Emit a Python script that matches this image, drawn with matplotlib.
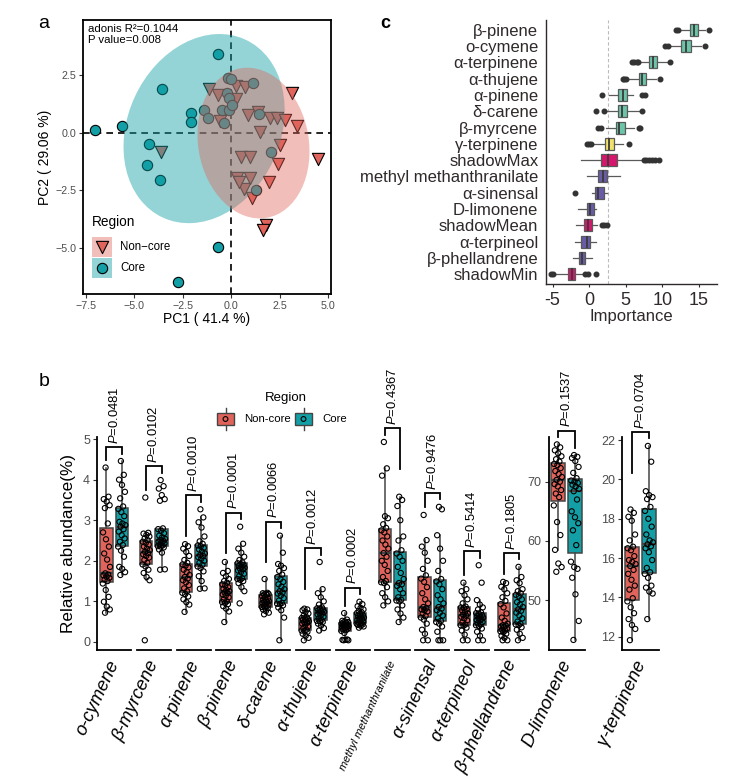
import numpy as np
import matplotlib
matplotlib.use('Agg')
import matplotlib.pyplot as plt
from matplotlib.patches import Ellipse, Rectangle

plt.rcParams['font.family'] = ['Liberation Sans', 'DejaVu Sans']
plt.rcParams['mathtext.fontset'] = 'custom'
plt.rcParams['mathtext.rm'] = 'Liberation Sans'
plt.rcParams['mathtext.it'] = 'Liberation Sans:italic'

# ------------------------------------------------------------------ data
# panel a : PCA scores
core_pc1 = [-0.69, -3.56, -2.10, -2.10, -7.03, -5.62, -4.25, -4.33, -3.66, -0.69, -2.75,
            -0.19, 0.00, 1.12, -0.22, -0.09, -1.43, -0.50, -0.12, 0.05, -1.22, -0.36, 1.43, 2.03, 1.29]
core_pc2 = [3.39, 1.87, 0.86, 0.45, 0.10, 0.30, -0.48, -1.40, -2.06, -4.94, -6.47,
            2.36, 2.30, 2.13, 1.69, 1.50, 0.99, 0.97, 0.99, 1.18, 0.62, 0.42, 0.82, -0.84, -2.46]
noncore_pc1 = [3.15, 3.37, 4.49, 2.51, 2.42, 1.96, 1.08, 1.77, 1.65, -1.15, -0.70, 0.26, 0.70, 0.26,
               0.88, 1.39, 1.98, 2.37, 2.77, -0.60, 1.48, -3.61, 0.52, 0.95, 0.29, 0.95, 0.65, 0.40]
noncore_pc2 = [1.69, 0.27, -1.14, -0.55, -1.34, -2.12, -2.81, -3.98, -4.19, 1.86, 1.61, 2.03, 1.95, 1.46,
               0.76, 0.88, 0.65, 0.62, 0.56, 0.49, 0.03, -0.84, -1.04, -1.05, -1.96, -1.96, -2.45, -2.13]
adonis_r2 = "0.1044"
adonis_p = "0.008"
pc1_pct = "41.4"
pc2_pct = "29.06"

# panel b : relative abundance (%) per sample
ocymene_nc = [0.72, 0.80, 0.87, 0.99, 1.11, 1.28, 1.44, 1.50, 1.54, 1.58, 1.61, 1.64, 1.66, 1.69,
              1.85, 2.03, 2.18, 2.35, 2.53, 2.70, 2.92, 3.30, 3.37, 3.46, 3.52, 3.58, 4.30]
ocymene_core = [1.65, 1.72, 1.80, 1.85, 2.10, 2.25, 2.35, 2.39, 2.47, 2.55, 2.63, 2.72, 2.78, 2.84,
                2.88, 2.92, 2.96, 3.10, 3.20, 3.28, 3.34, 3.54, 3.70, 3.87, 4.00, 4.12, 4.46]
myrcene_nc = [0.04, 1.52, 1.60, 1.70, 1.78, 1.86, 1.91, 1.95, 2.02, 2.08, 2.12, 2.16, 2.19, 2.22,
              2.26, 2.30, 2.35, 2.40, 2.44, 2.47, 2.51, 2.55, 2.60, 2.64, 2.67, 2.69, 3.56]
myrcene_core = [1.78, 1.79, 2.20, 2.28, 2.33, 2.35, 2.36, 2.38, 2.40, 2.43, 2.45, 2.47, 2.49, 2.51,
                2.54, 2.58, 2.62, 2.68, 2.74, 2.78, 2.80, 3.48, 3.52, 3.62, 3.78, 3.84, 3.99]
apinene_nc = [0.74, 0.92, 0.98, 1.05, 1.12, 1.18, 1.21, 1.25, 1.32, 1.40, 1.47, 1.52, 1.56, 1.60,
              1.65, 1.72, 1.78, 1.84, 1.88, 1.91, 1.95, 2.02, 2.12, 2.22, 2.30, 2.36, 2.41]
apinene_core = [1.31, 1.32, 1.50, 1.62, 1.74, 1.82, 1.86, 1.90, 1.95, 2.00, 2.05, 2.09, 2.12, 2.14,
                2.18, 2.23, 2.28, 2.32, 2.36, 2.38, 2.42, 2.48, 2.60, 2.82, 2.95, 3.07, 3.27]
bpinene_nc = [0.49, 0.75, 0.82, 0.88, 0.93, 0.96, 0.98, 1.00, 1.05, 1.10, 1.14, 1.17, 1.20, 1.22,
              1.25, 1.28, 1.31, 1.35, 1.39, 1.42, 1.46, 1.50, 1.55, 1.62, 1.70, 1.75, 1.97]
bpinene_core = [0.95, 1.25, 1.35, 1.45, 1.50, 1.53, 1.55, 1.57, 1.62, 1.68, 1.72, 1.76, 1.79, 1.81,
                1.83, 1.85, 1.87, 1.90, 1.92, 1.94, 1.96, 2.02, 2.10, 2.20, 2.30, 2.42, 2.84]
dcarene_nc = [0.68, 0.72, 0.76, 0.80, 0.83, 0.85, 0.86, 0.87, 0.89, 0.92, 0.94, 0.96, 0.98, 0.99,
              1.00, 1.02, 1.04, 1.07, 1.10, 1.13, 1.16, 1.17, 1.18, 1.19, 1.20, 1.21, 1.55]
dcarene_core = [0.04, 0.60, 0.78, 0.85, 0.90, 0.93, 0.94, 0.96, 1.02, 1.08, 1.14, 1.19, 1.22, 1.25,
                1.30, 1.36, 1.42, 1.48, 1.55, 1.60, 1.66, 1.75, 1.82, 1.88, 1.92, 2.20, 2.62]
athujene_nc = [0.04, 0.10, 0.15, 0.20, 0.25, 0.27, 0.28, 0.30, 0.34, 0.38, 0.42, 0.45, 0.47, 0.49,
               0.51, 0.53, 0.55, 0.57, 0.58, 0.59, 0.61, 0.65, 0.70, 0.74, 0.78, 0.80, 0.82]
athujene_core = [0.28, 0.34, 0.40, 0.45, 0.49, 0.51, 0.52, 0.54, 0.58, 0.62, 0.65, 0.68, 0.70, 0.72,
                 0.74, 0.76, 0.78, 0.80, 0.82, 0.83, 0.85, 0.92, 1.00, 1.10, 1.20, 1.30, 1.97]
aterpinene_nc = [0.04, 0.04, 0.05, 0.05, 0.06, 0.22, 0.27, 0.29, 0.31, 0.33, 0.35, 0.36, 0.37, 0.38,
                 0.39, 0.40, 0.41, 0.42, 0.44, 0.45, 0.47, 0.48, 0.49, 0.50, 0.52, 0.55, 0.71]
aterpinene_core = [0.35, 0.38, 0.40, 0.42, 0.43, 0.44, 0.45, 0.46, 0.48, 0.50, 0.52, 0.54, 0.56, 0.58,
                   0.60, 0.62, 0.64, 0.66, 0.69, 0.71, 0.73, 0.76, 0.80, 0.84, 0.88, 0.93, 0.99]
methyl_nc = [0.90, 1.00, 1.10, 1.20, 1.35, 1.45, 1.47, 1.50, 1.60, 1.75, 1.90, 2.00, 2.10, 2.19,
             2.30, 2.40, 2.50, 2.60, 2.70, 2.75, 2.81, 2.90, 3.05, 3.10, 4.10, 4.28, 4.93]
methyl_core = [0.49, 0.60, 0.70, 0.80, 0.90, 1.00, 1.02, 1.04, 1.10, 1.20, 1.30, 1.38, 1.42, 1.45,
               1.55, 1.70, 1.85, 2.00, 2.10, 2.18, 2.26, 2.50, 2.60, 3.00, 3.35, 3.50, 3.58]
sinensal_nc = [0.04, 0.04, 0.20, 0.30, 0.45, 0.55, 0.60, 0.64, 0.70, 0.75, 0.78, 0.80, 0.83, 0.86,
               0.95, 1.05, 1.20, 1.35, 1.48, 1.56, 1.64, 1.80, 2.00, 2.20, 2.35, 2.51, 3.13]
sinensal_core = [0.04, 0.04, 0.04, 0.25, 0.38, 0.45, 0.49, 0.52, 0.58, 0.65, 0.72, 0.78, 0.82, 0.86,
                 0.95, 1.05, 1.15, 1.30, 1.42, 1.49, 1.55, 1.75, 2.00, 2.30, 2.63, 3.27, 3.33]
terpineol_nc = [0.04, 0.04, 0.18, 0.28, 0.35, 0.40, 0.41, 0.43, 0.48, 0.53, 0.58, 0.62, 0.65, 0.67,
                0.70, 0.74, 0.78, 0.81, 0.84, 0.85, 0.87, 0.95, 1.05, 1.15, 1.25, 1.30, 1.46]
terpineol_core = [0.04, 0.04, 0.15, 0.25, 0.33, 0.39, 0.41, 0.43, 0.46, 0.49, 0.52, 0.54, 0.56, 0.58,
                  0.60, 0.62, 0.64, 0.66, 0.69, 0.71, 0.73, 0.80, 0.85, 0.92, 1.03, 1.46, 1.89]
phell_nc = [0.04, 0.04, 0.10, 0.15, 0.20, 0.24, 0.26, 0.28, 0.30, 0.33, 0.36, 0.38, 0.40, 0.41,
            0.45, 0.52, 0.60, 0.70, 0.85, 0.93, 1.01, 1.10, 1.20, 1.30, 1.36, 1.45, 1.48]
phell_core = [0.04, 0.10, 0.20, 0.30, 0.36, 0.41, 0.43, 0.45, 0.50, 0.58, 0.65, 0.72, 0.77, 0.80,
              0.86, 0.92, 0.98, 1.05, 1.12, 1.16, 1.20, 1.25, 1.30, 1.45, 1.52, 1.60, 1.85]
limonene_nc = [54.8, 55.6, 56.2, 58.5, 61.0, 63.2, 66.0, 67.4, 68.0, 68.6, 69.2, 69.6, 70.0, 70.3,
               70.8, 71.3, 71.8, 72.3, 72.8, 73.0, 73.4, 73.8, 74.3, 74.8, 75.3, 75.8, 76.3]
limonene_core = [43.3, 46.5, 51.0, 53.8, 55.3, 55.6, 56.5, 59.3, 61.8, 63.0, 64.0, 65.0, 67.0, 68.4,
                 68.8, 69.2, 69.5, 69.8, 70.0, 70.2, 70.6, 71.5, 72.5, 73.5, 74.0, 74.2, 74.5]
gterpinene_nc = [11.83, 12.4, 12.6, 12.9, 13.2, 13.5, 13.8, 13.96, 14.4, 14.6, 14.9, 15.2, 15.4, 15.6,
                 15.7, 15.8, 15.9, 16.1, 16.4, 16.5, 16.58, 16.9, 17.2, 17.9, 18.1, 18.3, 18.47]
gterpinene_core = [12.9, 14.2, 14.3, 14.5, 14.6, 15.0, 15.2, 15.28, 15.5, 15.9, 16.3, 16.5, 16.6, 16.7,
                   16.8, 16.9, 17.2, 17.6, 18.0, 18.4, 18.6, 19.0, 19.1, 19.2, 19.4, 20.9, 21.7]

b_compounds = ['o-cymene', 'β-myrcene', 'α-pinene', 'β-pinene', 'δ-carene', 'α-thujene',
               'α-terpinene', 'methyl methanthranilate', 'α-sinensal', 'α-terpineol',
               'β-phellandrene', 'D-limonene', 'γ-terpinene']
b_pvalues = ['0.0481', '0.0102', '0.0010', '0.0001', '0.0066', '0.0012', '0.0002',
             '0.4367', '0.9476', '0.5414', '0.1805', '0.1537', '0.0704']
b_noncore = [ocymene_nc, myrcene_nc, apinene_nc, bpinene_nc, dcarene_nc, athujene_nc, aterpinene_nc,
             methyl_nc, sinensal_nc, terpineol_nc, phell_nc, limonene_nc, gterpinene_nc]
b_core = [ocymene_core, myrcene_core, apinene_core, bpinene_core, dcarene_core, athujene_core,
          aterpinene_core, methyl_core, sinensal_core, terpineol_core, phell_core, limonene_core,
          gterpinene_core]

# panel c : Boruta importance
c_labels = ['β-pinene', 'o-cymene', 'α-terpinene', 'α-thujene', 'α-pinene', 'δ-carene', 'β-myrcene',
            'γ-terpinene', 'shadowMax', 'methyl methanthranilate', 'α-sinensal', 'D-limonene',
            'shadowMean', 'α-terpineol', 'β-phellandrene', 'shadowMin']
c_decision = ['Confirmed'] * 7 + ['Tentative', 'Shadow', 'Rejected', 'Rejected', 'Rejected',
                                  'Shadow', 'Rejected', 'Rejected', 'Shadow']
c_whislo = [12.5, 11.2, 6.9, 5.4, 2.7, 2.5, 2.3, 0.6, -1.1, -0.3, 0.45, -1.5, -1.75, -1.95, -2.17, -4.7]
c_q1 = [13.77, 12.63, 8.21, 6.85, 3.97, 3.97, 3.66, 2.2, 1.6, 1.15, 0.79, -0.26, -0.67, -1.13, -1.4, -2.86]
c_med = [14.3, 13.2, 8.76, 7.3, 4.66, 4.52, 4.1, 2.74, 2.6, 1.92, 1.15, 0.1, -0.22, -0.35, -1.04, -2.4]
c_q3 = [14.9, 14.0, 9.31, 7.85, 5.25, 5.2, 4.89, 3.43, 3.88, 2.47, 2.06, 0.65, 0.33, 0.1, -0.58, -1.95]
c_whishi = [15.9, 15.3, 10.6, 9.2, 6.0, 7.0, 6.2, 4.7, 7.2, 4.2, 2.38, 1.0, 1.1, 1.0, 0.33, -0.8]
c_outliers = [[11.9, 12.1, 16.4], [10.4, 10.8, 15.8], [5.9, 6.2, 6.5, 6.7, 11.0], [4.6, 4.8, 5.0, 9.7],
              [1.8, 7.3, 7.7], [0.9, 2.1, 7.2], [1.2, 1.6, 6.8, 7.0], [-0.3, 0.0, 0.3, 5.5],
              [7.5, 7.8, 8.2, 8.6, 9.0, 9.5], [], [-1.9], [], [1.8, 2.1, 2.5], [], [],
              [-5.2, -5.0, -0.5, -0.1, 1.0]]

# ------------------------------------------------------------------ style
NC_COL = '#E0645B'
CORE_COL = '#12A0A6'
GRAY_TXT = '#4D4D4D'
C_COLORS = {'Confirmed': '#6CC4A9', 'Tentative': '#F2E26C', 'Shadow': '#D6166C', 'Rejected': '#6A5BA6'}
C_TXT = '#2F2929'

W, H = 733, 780
fig = plt.figure(figsize=(W / 100, H / 100), dpi=100)


def add_ax(l, t, r, b):
    return fig.add_axes([l / W, 1 - b / H, (r - l) / W, (b - t) / H])


# ------------------------------------------------------------------ panel a
axa = add_ax(83, 20, 331, 294)
axa.set_xlim(-7.65, 5.15)
axa.set_ylim(-6.97, 4.86)
axa.axvline(0, color='black', lw=1.2, dashes=(4, 3), zorder=1.5)
axa.axhline(0, color='black', lw=1.2, dashes=(4, 3), zorder=1.5)
axa.scatter(noncore_pc1, noncore_pc2, marker='v', s=78, facecolor=NC_COL, edgecolor='black',
            linewidths=0.8, zorder=2)
axa.scatter(core_pc1, core_pc2, marker='o', s=55, facecolor=CORE_COL, edgecolor='black',
            linewidths=0.8, zorder=2)


def conf_ellipse(x, y, scale, **kw):
    x = np.asarray(x); y = np.asarray(y)
    cov = np.cov(x, y)
    vals, vecs = np.linalg.eigh(cov)
    order = vals.argsort()[::-1]
    vals, vecs = vals[order], vecs[:, order]
    ang = np.degrees(np.arctan2(vecs[1, 0], vecs[0, 0]))
    return Ellipse((x.mean(), y.mean()), 2 * scale * np.sqrt(vals[0]), 2 * scale * np.sqrt(vals[1]),
                   angle=ang, **kw)


ELL_SCALE = 1.82
axa.add_patch(conf_ellipse(core_pc1, core_pc2, ELL_SCALE, facecolor=CORE_COL, alpha=0.45,
                           edgecolor='none', zorder=3))
axa.add_patch(conf_ellipse(noncore_pc1, noncore_pc2, ELL_SCALE, facecolor=NC_COL, alpha=0.42,
                           edgecolor='none', zorder=3))
axa.set_xticks([-7.5, -5, -2.5, 0, 2.5, 5])
axa.set_xticklabels(['\u22127.5', '\u22125.0', '\u22122.5', '0.0', '2.5', '5.0'])
axa.set_yticks([-5, -2.5, 0, 2.5])
axa.set_yticklabels(['\u22125.0', '\u22122.5', '0.0', '2.5'])
axa.tick_params(labelsize=7.7, labelcolor=GRAY_TXT, length=3, width=0.8, color='#333333', pad=2)
for s in axa.spines.values():
    s.set_linewidth(1.3)
axa.set_xlabel(f'PC1 ( {pc1_pct} %)', fontsize=10, labelpad=1)
axa.set_ylabel(f'PC2 ( {pc2_pct} %)', fontsize=10, labelpad=2)
axa.text(0.02, 0.985, f'adonis R\u00b2={adonis_r2}\nP value={adonis_p}', transform=axa.transAxes,
         ha='left', va='top', fontsize=8.2, linespacing=1.15, zorder=5)

# ------------------------------------------------------------------ panel c
axc = add_ax(546, 20, 717, 284)
cstats = []
for i in range(len(c_labels)):
    cstats.append(dict(q1=c_q1[i], med=c_med[i], q3=c_q3[i], whislo=c_whislo[i],
                       whishi=c_whishi[i], fliers=c_outliers[i]))
cpos = np.arange(1, len(c_labels) + 1)
ckw = dict(positions=cpos, widths=0.74, patch_artist=True, showcaps=False,
           boxprops=dict(edgecolor='#5a5a5a', linewidth=0.9),
           medianprops=dict(color='#3a3a3a', linewidth=1.3),
           whiskerprops=dict(color='#5a5a5a', linewidth=0.9),
           flierprops=dict(marker='o', markersize=3.3, markerfacecolor='#333333',
                           markeredgecolor='#333333', linestyle='none'))
try:
    cb = axc.bxp(cstats, orientation='horizontal', **ckw)
except TypeError:
    cb = axc.bxp(cstats, vert=False, **ckw)
for patch, dec in zip(cb['boxes'], c_decision):
    patch.set_facecolor(C_COLORS[dec])
axc.axvline(c_med[c_labels.index('shadowMax')], color='#BBBBBB', lw=0.8, dashes=(3, 2), zorder=0.5)
axc.set_ylim(16.6, 0.4)
axc.set_xlim(-5.9, 17.5)
axc.set_yticks(cpos)
axc.set_yticklabels(c_labels)
axc.set_xticks([-5, 0, 5, 10, 15])
axc.set_xticklabels(['-5', '0', '5', '10', '15'])
axc.tick_params(axis='y', length=0, labelsize=12, labelcolor=C_TXT, pad=5.5)
axc.tick_params(axis='x', length=2, labelsize=13, labelcolor=C_TXT, color=C_TXT, pad=4)
axc.spines['top'].set_visible(False)
axc.spines['right'].set_visible(False)
for s in ('left', 'bottom'):
    axc.spines[s].set_color(C_TXT)
    axc.spines[s].set_linewidth(1.0)
axc.set_xlabel('Importance', fontsize=12, color=C_TXT, labelpad=0)


# ------------------------------------------------------------------ panel b
def tukey(vals):
    v = np.sort(np.asarray(vals, float))
    q1, med, q3 = np.percentile(v, [25, 50, 75])
    iqr = q3 - q1
    lo = v[v >= q1 - 1.5 * iqr].min()
    hi = v[v <= q3 + 1.5 * iqr].max()
    return dict(q1=q1, med=med, q3=q3, whislo=lo, whishi=hi, fliers=[])


def draw_facet(ax, nc, core, pval, ylim):
    st = [tukey(nc), tukey(core)]
    bp = ax.bxp(st, positions=[1, 2], widths=0.8, patch_artist=True, showfliers=False,
                showcaps=False,
                boxprops=dict(edgecolor='#454545', linewidth=1.1),
                medianprops=dict(color='#454545', linewidth=1.6),
                whiskerprops=dict(color='#454545', linewidth=1.1))
    bp['boxes'][0].set_facecolor(NC_COL)
    bp['boxes'][1].set_facecolor(CORE_COL)
    for pos, vals in ((1, nc), (2, core)):
        v = np.asarray(vals, float)
        jit = ((np.arange(len(v)) * 0.6180339887 + 0.31) % 1.0 - 0.5) * 0.5
        ax.scatter(pos + jit, v, s=14, facecolor='none', edgecolor='black', linewidths=0.8,
                   zorder=4, clip_on=False)
    span = ylim[1] - ylim[0]
    m1, m2 = max(nc), max(core)
    by = max(m1, m2) + 0.065 * span
    l1 = max(m1 + 0.035 * span, by - 0.19 * span)
    l2 = max(m2 + 0.035 * span, by - 0.19 * span)
    ax.plot([1, 1, 2, 2], [l1, by, by, l2], color='black', lw=1.3, clip_on=False,
            solid_joinstyle='miter', zorder=5)
    ax.annotate(f'$\\mathit{{P}}$={pval}', xy=(1.5, by), xytext=(0, 2.5), textcoords='offset points',
                rotation=90, ha='center', va='bottom', fontsize=9.4, annotation_clip=False)
    ax.set_ylim(*ylim)
    ax.set_xlim(0.38, 2.62)
    ax.set_xticks([])
    for s in ('top', 'right'):
        ax.spines[s].set_visible(False)
    ax.spines['bottom'].set_linewidth(1.3)
    ax.spines['left'].set_linewidth(1.3)
    ax.patch.set_alpha(0)


B_TOP, B_BOT = 436.7, 650
facet_w, facet_step, facet_x0 = 34.3, 39.76, 97
facet_centers = []
main_ylim = (-0.2, 5.06)
for i in range(11):
    l = facet_x0 + i * facet_step
    ax = add_ax(l, B_TOP, l + facet_w, B_BOT)
    draw_facet(ax, b_noncore[i], b_core[i], b_pvalues[i], main_ylim)
    facet_centers.append(l + facet_w / 2)
    if i == 0:
        ax.set_yticks([0, 1, 2, 3, 4, 5])
        ax.tick_params(axis='y', labelsize=9, labelcolor=GRAY_TXT, length=3, width=0.8,
                       color='#333333', pad=2)
        ax.set_ylabel('Relative abundance(%)', fontsize=12.3, labelpad=5)
    else:
        ax.spines['left'].set_visible(False)
        ax.set_yticks([])

side_specs = [(548.5, 584.5, (41.6, 77.6), [50, 60, 70]),
              (622, 658.5, (11.33, 22.17), [12, 14, 16, 18, 20, 22])]
for k, (l, r, yl, yt) in enumerate(side_specs):
    ax = add_ax(l, B_TOP, r, B_BOT)
    draw_facet(ax, b_noncore[11 + k], b_core[11 + k], b_pvalues[11 + k], yl)
    ax.set_xlim(0.45, 2.55)
    ax.set_yticks(yt)
    ax.tick_params(axis='y', labelsize=9, labelcolor=GRAY_TXT, length=3, width=0.8,
                   color='#333333', pad=2)
    facet_centers.append((l + r) / 2)

# ------------------------------------------------------------------ overlay (labels / legends)
ov = fig.add_axes([0, 0, 1, 1], zorder=10)
ov.set_xlim(0, W)
ov.set_ylim(H, 0)
ov.axis('off')

ov.text(44, 24, 'a', fontsize=14, ha='center', va='center')
ov.text(44, 381, 'b', fontsize=14, ha='center', va='center')
ov.text(385, 23, 'c', fontsize=13, fontweight='bold', ha='center', va='center')

# x labels of panel b
for i, (name, cx) in enumerate(zip(b_compounds, facet_centers)):
    fs = 8 if name.startswith('methyl') else 13.2
    ov.text(cx + 1, 661, name, fontsize=fs, style='italic', rotation=65, rotation_mode='anchor',
            ha='right', va='center')

# legend of panel a
ov.text(92, 222, 'Region', fontsize=9.8, ha='left', va='center')
ov.add_patch(Rectangle((92, 237), 20, 20, facecolor=NC_COL, alpha=0.42, edgecolor='none'))
ov.add_patch(Rectangle((92, 258), 20, 20, facecolor=CORE_COL, alpha=0.45, edgecolor='none'))
ov.scatter([102], [247], marker='v', s=78, facecolor=NC_COL, edgecolor='black', linewidths=0.8)
ov.scatter([102], [268], marker='o', s=55, facecolor=CORE_COL, edgecolor='black', linewidths=0.8)
ov.text(120, 247, 'Non\u2212core', fontsize=8.3, ha='left', va='center')
ov.text(120, 268, 'Core', fontsize=8.3, ha='left', va='center')

# legend of panel b
ov.text(286, 398, 'Region', fontsize=9.5, ha='center', va='center')
for x0, col, lab in ((217, NC_COL, 'Non-core'), (295, CORE_COL, 'Core')):
    cx = x0 + 8.5
    ov.plot([cx, cx], [408, 430], color='#454545', lw=1.0, zorder=1)
    ov.add_patch(Rectangle((x0, 413), 17, 12, facecolor=col, edgecolor='#454545', lw=1.0, zorder=2))
    ov.scatter([cx], [419], s=12, facecolor='none', edgecolor='black', linewidths=0.8, zorder=3)
    ov.text(x0 + 27, 419, lab, fontsize=8.2, ha='left', va='center')

fig.savefig('out.png', dpi=100)
